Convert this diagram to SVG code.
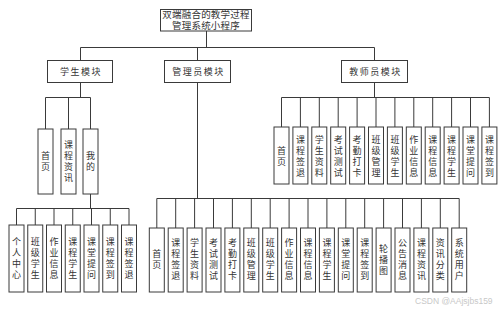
<svg xmlns="http://www.w3.org/2000/svg" width="499" height="311" viewBox="0 0 499 311">
<style>
.bg{fill:#fff}
.box{fill:#fff;stroke:#3a3a3a;stroke-width:1}
.ln{fill:none;stroke:#3a3a3a;stroke-width:1}
.t{font-family:"Liberation Sans","Noto Sans CJK SC",sans-serif;font-size:9px;fill:#333;text-anchor:middle}
.h{font-family:"Liberation Sans","Noto Sans CJK SC",sans-serif;font-size:9px;fill:#333;text-anchor:middle;letter-spacing:1.5px}
.ttl{font-family:"Liberation Sans","Noto Sans CJK SC",sans-serif;font-size:9.5px;fill:#333;text-anchor:middle;letter-spacing:0.2px}
.wm{font-family:"Liberation Sans",Arial,sans-serif;font-size:8.5px;fill:#c8c8c8}
</style>
<rect class="bg" x="0" y="0" width="499" height="311"/>

<g id="connectors">
  <path class="ln" d="M206.5 31V47.5M80.5 47.5H374.5M80.5 47.5V60M197.5 47.5V60M374.5 47.5V60"/>
  <!-- student -->
  <path class="ln" d="M80.5 82.5V97.5M45.5 97.5H90.5M45.5 97.5V129M68.5 97.5V129M90.5 97.5V129"/>
  <path class="ln" d="M90.5 194V208.5M16.5 208.5H129M16.5 208.5V225M35.25 208.5V225M54 208.5V225M72.75 208.5V225M91.5 208.5V225M110.25 208.5V225M129 208.5V225"/>
  <!-- admin -->
  <path class="ln" d="M197.5 82.5V198.5M156.8 198.5H459.2M156.8 198.5V228M175.7 198.5V228M194.6 198.5V228M213.5 198.5V228M232.4 198.5V228M251.3 198.5V228M270.2 198.5V228M289.1 198.5V228M308 198.5V228M326.9 198.5V228M345.8 198.5V228M364.7 198.5V228M383.6 198.5V228M402.5 198.5V228M421.4 198.5V228M440.3 198.5V228M459.2 198.5V228"/>
  <!-- teacher -->
  <path class="ln" d="M374.5 82.5V97.5M281.5 97.5H489.4M281.5 97.5V127M300.4 97.5V127M319.3 97.5V127M338.2 97.5V127M357.1 97.5V127M376 97.5V127M394.9 97.5V127M413.8 97.5V127M432.7 97.5V127M451.6 97.5V127M470.5 97.5V127M489.4 97.5V127"/>
</g>

<g id="root">
  <rect class="box" x="160.5" y="9.5" width="91" height="21.5"/>
  <text class="ttl" x="206" y="17.8">双端融合的教学过程</text>
  <text class="ttl" x="206" y="28.6">管理系统小程序</text>
</g>

<g id="student">
  <rect class="box" x="47.5" y="60.5" width="65" height="22"/>
  <text class="h" x="81" y="74.5">学生模块</text>
</g>
<g id="admin">
  <rect class="box" x="164.5" y="60.5" width="66" height="22"/>
  <text class="h" x="198.5" y="74.5">管理员模块</text>
</g>
<g id="teacher">
  <rect class="box" x="341.5" y="60.5" width="66" height="22"/>
  <text class="h" x="375.5" y="74.5">教师员模块</text>
</g>

<!-- student level 2 -->
<g id="s-home"><rect class="box" x="38" y="129" width="15" height="65"/><text class="t" x="45.5 45.5" y="159.3 170.3">首页</text></g>
<g id="s-news"><rect class="box" x="61" y="129" width="15" height="65"/><text class="t" x="68.5 68.5 68.5 68.5" y="148.3 159.3 170.3 181.3">课程资讯</text></g>
<g id="s-mine"><rect class="box" x="83" y="129" width="15" height="65"/><text class="t" x="90.5 90.5" y="159.3 170.3">我的</text></g>

<!-- student level 3 -->
<g id="s-m1"><rect class="box" x="9" y="225" width="15" height="67"/><text class="t" x="16.5 16.5 16.5 16.5" y="245.3 256.3 267.3 278.3">个人中心</text></g>
<g id="s-m2"><rect class="box" x="27.75" y="225" width="15" height="67"/><text class="t" x="35.25 35.25 35.25 35.25" y="245.3 256.3 267.3 278.3">班级学生</text></g>
<g id="s-m3"><rect class="box" x="46.5" y="225" width="15" height="67"/><text class="t" x="54 54 54 54" y="245.3 256.3 267.3 278.3">作业信息</text></g>
<g id="s-m4"><rect class="box" x="65.25" y="225" width="15" height="67"/><text class="t" x="72.75 72.75 72.75 72.75" y="245.3 256.3 267.3 278.3">课程学生</text></g>
<g id="s-m5"><rect class="box" x="84" y="225" width="15" height="67"/><text class="t" x="91.5 91.5 91.5 91.5" y="245.3 256.3 267.3 278.3">课堂提问</text></g>
<g id="s-m6"><rect class="box" x="102.75" y="225" width="15" height="67"/><text class="t" x="110.25 110.25 110.25 110.25" y="245.3 256.3 267.3 278.3">课程签到</text></g>
<g id="s-m7"><rect class="box" x="121.5" y="225" width="15" height="67"/><text class="t" x="129 129 129 129" y="245.3 256.3 267.3 278.3">课程签退</text></g>

<!-- admin level 2 -->
<g id="a1"><rect class="box" x="149.3" y="228" width="15" height="64"/><text class="t" x="156.8 156.8" y="257.3 268.3">首页</text></g>
<g id="a2"><rect class="box" x="168.2" y="228" width="15" height="64"/><text class="t" x="175.7 175.7 175.7 175.7" y="246.3 257.3 268.3 279.3">课程签退</text></g>
<g id="a3"><rect class="box" x="187.1" y="228" width="15" height="64"/><text class="t" x="194.6 194.6 194.6 194.6" y="246.3 257.3 268.3 279.3">学生资料</text></g>
<g id="a4"><rect class="box" x="206" y="228" width="15" height="64"/><text class="t" x="213.5 213.5 213.5 213.5" y="246.3 257.3 268.3 279.3">考试测试</text></g>
<g id="a5"><rect class="box" x="224.9" y="228" width="15" height="64"/><text class="t" x="232.4 232.4 232.4 232.4" y="246.3 257.3 268.3 279.3">考勤打卡</text></g>
<g id="a6"><rect class="box" x="243.8" y="228" width="15" height="64"/><text class="t" x="251.3 251.3 251.3 251.3" y="246.3 257.3 268.3 279.3">班级管理</text></g>
<g id="a7"><rect class="box" x="262.7" y="228" width="15" height="64"/><text class="t" x="270.2 270.2 270.2 270.2" y="246.3 257.3 268.3 279.3">班级学生</text></g>
<g id="a8"><rect class="box" x="281.6" y="228" width="15" height="64"/><text class="t" x="289.1 289.1 289.1 289.1" y="246.3 257.3 268.3 279.3">作业信息</text></g>
<g id="a9"><rect class="box" x="300.5" y="228" width="15" height="64"/><text class="t" x="308 308 308 308" y="246.3 257.3 268.3 279.3">课程信息</text></g>
<g id="a10"><rect class="box" x="319.4" y="228" width="15" height="64"/><text class="t" x="326.9 326.9 326.9 326.9" y="246.3 257.3 268.3 279.3">课程学生</text></g>
<g id="a11"><rect class="box" x="338.3" y="228" width="15" height="64"/><text class="t" x="345.8 345.8 345.8 345.8" y="246.3 257.3 268.3 279.3">课堂提问</text></g>
<g id="a12"><rect class="box" x="357.2" y="228" width="15" height="64"/><text class="t" x="364.7 364.7 364.7 364.7" y="246.3 257.3 268.3 279.3">课程签到</text></g>
<g id="a13"><rect class="box" x="376.1" y="228" width="15" height="64"/><text class="t" x="383.6 383.6 383.6" y="251.8 262.8 273.8">轮播图</text></g>
<g id="a14"><rect class="box" x="395" y="228" width="15" height="64"/><text class="t" x="402.5 402.5 402.5 402.5" y="246.3 257.3 268.3 279.3">公告消息</text></g>
<g id="a15"><rect class="box" x="413.9" y="228" width="15" height="64"/><text class="t" x="421.4 421.4 421.4 421.4" y="246.3 257.3 268.3 279.3">课程资讯</text></g>
<g id="a16"><rect class="box" x="432.8" y="228" width="15" height="64"/><text class="t" x="440.3 440.3 440.3 440.3" y="246.3 257.3 268.3 279.3">资讯分类</text></g>
<g id="a17"><rect class="box" x="451.7" y="228" width="15" height="64"/><text class="t" x="459.2 459.2 459.2 459.2" y="246.3 257.3 268.3 279.3">系统用户</text></g>

<!-- teacher level 2 -->
<g id="t1"><rect class="box" x="274" y="127" width="15" height="57"/><text class="t" x="281.5 281.5" y="153.8 164.8">首页</text></g>
<g id="t2"><rect class="box" x="292.9" y="127" width="15" height="57"/><text class="t" x="300.4 300.4 300.4 300.4" y="142.8 153.8 164.8 175.8">课程签退</text></g>
<g id="t3"><rect class="box" x="311.8" y="127" width="15" height="57"/><text class="t" x="319.3 319.3 319.3 319.3" y="142.8 153.8 164.8 175.8">学生资料</text></g>
<g id="t4"><rect class="box" x="330.7" y="127" width="15" height="57"/><text class="t" x="338.2 338.2 338.2 338.2" y="142.8 153.8 164.8 175.8">考试测试</text></g>
<g id="t5"><rect class="box" x="349.6" y="127" width="15" height="57"/><text class="t" x="357.1 357.1 357.1 357.1" y="142.8 153.8 164.8 175.8">考勤打卡</text></g>
<g id="t6"><rect class="box" x="368.5" y="127" width="15" height="57"/><text class="t" x="376 376 376 376" y="142.8 153.8 164.8 175.8">班级管理</text></g>
<g id="t7"><rect class="box" x="387.4" y="127" width="15" height="57"/><text class="t" x="394.9 394.9 394.9 394.9" y="142.8 153.8 164.8 175.8">班级学生</text></g>
<g id="t8"><rect class="box" x="406.3" y="127" width="15" height="57"/><text class="t" x="413.8 413.8 413.8 413.8" y="142.8 153.8 164.8 175.8">作业信息</text></g>
<g id="t9"><rect class="box" x="425.2" y="127" width="15" height="57"/><text class="t" x="432.7 432.7 432.7 432.7" y="142.8 153.8 164.8 175.8">课程信息</text></g>
<g id="t10"><rect class="box" x="444.1" y="127" width="15" height="57"/><text class="t" x="451.6 451.6 451.6 451.6" y="142.8 153.8 164.8 175.8">课程学生</text></g>
<g id="t11"><rect class="box" x="463" y="127" width="15" height="57"/><text class="t" x="470.5 470.5 470.5 470.5" y="142.8 153.8 164.8 175.8">课堂提问</text></g>
<g id="t12"><rect class="box" x="481.9" y="127" width="15" height="57"/><text class="t" x="489.4 489.4 489.4 489.4" y="142.8 153.8 164.8 175.8">课程签到</text></g>

<text class="wm" x="415" y="304">CSDN @AAjsjbs159</text>
</svg>
